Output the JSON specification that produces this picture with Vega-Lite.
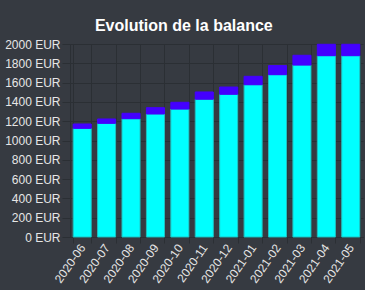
{
  "$schema": "https://vega.github.io/schema/vega-lite/v6.json",
  "width": 293,
  "height": 193,
  "autosize": {"type": "none"},
  "padding": {"left": 70, "top": 44, "right": 2, "bottom": 53},
  "background": "#363a41",
  "title": {"text": "Evolution de la balance", "fontSize": 16, "font": "Liberation Sans", "fontWeight": "bold", "color": "#ffffff", "anchor": "middle", "frame": "bounds", "offset": 4},
  "config": {"view": {"stroke": null}},
  "data": {"values": [
    {"mois": "2020-06", "serie": "a", "ord": 1, "v": 1126},
    {"mois": "2020-06", "serie": "b", "ord": 2, "v": 45},
    {"mois": "2020-07", "serie": "a", "ord": 1, "v": 1178},
    {"mois": "2020-07", "serie": "b", "ord": 2, "v": 45},
    {"mois": "2020-08", "serie": "a", "ord": 1, "v": 1226},
    {"mois": "2020-08", "serie": "b", "ord": 2, "v": 56},
    {"mois": "2020-09", "serie": "a", "ord": 1, "v": 1275},
    {"mois": "2020-09", "serie": "b", "ord": 2, "v": 65},
    {"mois": "2020-10", "serie": "a", "ord": 1, "v": 1326},
    {"mois": "2020-10", "serie": "b", "ord": 2, "v": 70},
    {"mois": "2020-11", "serie": "a", "ord": 1, "v": 1428},
    {"mois": "2020-11", "serie": "b", "ord": 2, "v": 75},
    {"mois": "2020-12", "serie": "a", "ord": 1, "v": 1479},
    {"mois": "2020-12", "serie": "b", "ord": 2, "v": 75},
    {"mois": "2021-01", "serie": "a", "ord": 1, "v": 1578},
    {"mois": "2021-01", "serie": "b", "ord": 2, "v": 87},
    {"mois": "2021-02", "serie": "a", "ord": 1, "v": 1682},
    {"mois": "2021-02", "serie": "b", "ord": 2, "v": 94},
    {"mois": "2021-03", "serie": "a", "ord": 1, "v": 1782},
    {"mois": "2021-03", "serie": "b", "ord": 2, "v": 101},
    {"mois": "2021-04", "serie": "a", "ord": 1, "v": 1879},
    {"mois": "2021-04", "serie": "b", "ord": 2, "v": 118},
    {"mois": "2021-05", "serie": "a", "ord": 1, "v": 1879},
    {"mois": "2021-05", "serie": "b", "ord": 2, "v": 118}
  ]},
  "mark": {"type": "bar", "strokeWidth": 1},
  "encoding": {
    "x": {"field": "mois", "type": "ordinal", "title": null,
      "scale": {"paddingInner": 0.26, "paddingOuter": 0.13},
      "axis": {"labelAngle": -55, "labelFont": "Liberation Sans", "labelFontSize": 12, "labelColor": "#e6e6e6", "tickBand": "extent", "grid": true, "gridColor": "#2b2f34", "tickColor": "#2b2f34", "domainColor": "#2b2f34", "tickSize": 6, "labelPadding": 2}},
    "y": {"field": "v", "type": "quantitative", "stack": "zero", "title": null,
      "scale": {"domain": [0, 2000], "nice": false},
      "axis": {"values": [0, 200, 400, 600, 800, 1000, 1200, 1400, 1600, 1800, 2000], "labelExpr": "datum.value + ' EUR'", "labelFont": "Liberation Sans", "labelFontSize": 12, "labelColor": "#e6e6e6", "grid": true, "gridColor": "#2b2f34", "tickColor": "#2b2f34", "domainColor": "#2b2f34", "tickSize": 8, "labelPadding": 2}},
    "color": {"field": "serie", "type": "nominal", "legend": null, "scale": {"domain": ["a", "b"], "range": ["#00ffff", "#4400ff"]}},
    "stroke": {"field": "serie", "type": "nominal", "legend": null, "scale": {"domain": ["a", "b"], "range": ["#20c0c0", "#4400ff"]}},
    "order": {"field": "ord", "type": "quantitative"}
  }
}
